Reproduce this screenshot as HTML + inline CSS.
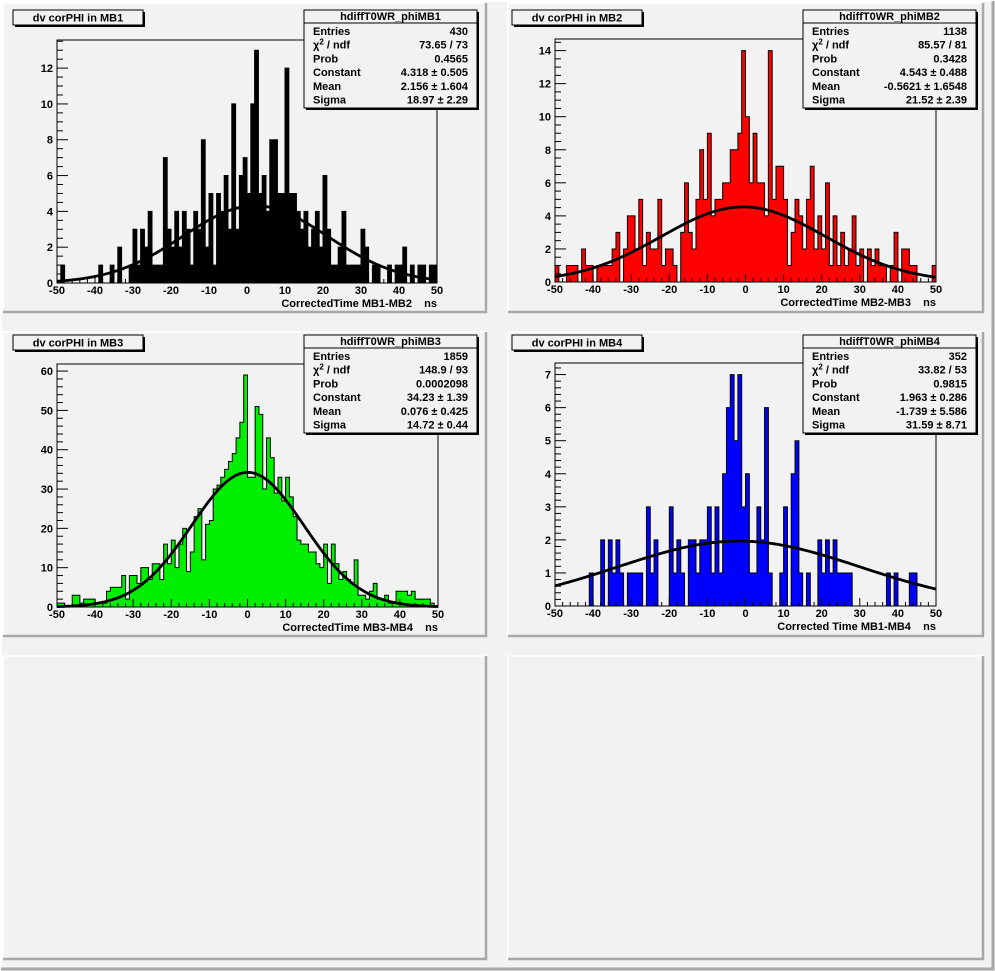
<!DOCTYPE html>
<html><head><meta charset="utf-8">
<style>
html,body{margin:0;padding:0;background:#f2f2f2;}
svg{display:block;font-family:"Liberation Sans",Arial,sans-serif;font-weight:bold;}
</style></head>
<body>
<svg id="cv" width="995" height="971" viewBox="0 0 995 971" xmlns="http://www.w3.org/2000/svg">
<rect x="0" y="0" width="995" height="971" fill="#f2f2f2"/>
<polyline points="1,969 1,1 993,1" fill="none" stroke="#ffffff" stroke-width="2"/>
<polyline points="993,1 993,969 1,969" fill="none" stroke="#a8a8a8" stroke-width="3"/>
<g id="pads"></g>
</svg>
<script>
// ---------- data ----------
const binEdgesMin = -50, binEdgesMax = 50;
const xTickLabels = [-50,-40,-30,-20,-10,0,10,20,30,40,50];

const countsMB1 = [0,1,0,0,0,0,0,0,0,0, 0,1,0,0,1,0,2,0,0,1, 3,1,3,2,4,1,1,1,7,3, 2,4,2,4,3,1,4,3,8,2,
  5,1,5,4,6,3,10,3,6,7, 5,10,13,5,6,4,8,8,5,5, 12,5,5,4,3,4,2,3,4,2, 6,3,1,1,2,4,1,1,1,1,
  3,2,0,1,1,0,0,1,0,1, 1,2,0,1,0,1,1,0,1,1];
const countsMB2 = [1,0,0,1,1,1,0,2,1,1, 0,1,1,1,1,2,3,0,2,4, 4,2,5,1,3,2,2,5,1,2, 2,1,0,3,6,3,2,5,8,5,
  9,4,5,5,6,6,8,8,9,14, 10,6,9,6,6,4,14,5,7,7, 5,1,3,5,4,2,5,7,2,4, 2,6,1,4,1,3,1,2,4,1,
  2,0,2,1,2,1,1,0,1,3, 0,2,2,1,1,0,0,0,0,1];
const countsMB3 = [1,1,0,0,3,3,1,2,2,2, 1,1,1,4,5,5,5,8,2,8, 8,6,10,10,7,11,11,7,16,11,
  17,10,16,20,9,14,23,25,12,21, 22,30,31,33,35,37,39,43,47,59, 33,33,51,49,30,43,38,29,33,27,
  33,28,23,17,16,16,14,14,11,10, 16,6,16,11,7,9,7,6,12,3, 3,2,4,6,2,2,3,1,1,4,
  4,4,3,4,2,2,2,2,1,0];
const countsMB4 = [0,0,0,0,0,0,0,0,0,1, 0,0,2,0,2,1,2,1,0,1, 1,1,1,0,3,1,2,0,0,0,
  3,1,2,1,0,2,2,1,2,2, 3,1,3,1,4,6,7,5,7,3, 4,1,1,3,2,6,1,0,0,1, 3,0,4,5,1,0,1,0,0,2,
  1,2,1,2,1,1,1,1,0,0, 0,0,0,0,0,0,0,1,0,1, 0,0,0,1,1,0,0,0,0,0];

const fitConstant = [4.318, 4.543, 34.23, 1.963];
const fitMean = [2.156, -0.5621, 0.076, -1.739];
const fitSigma = [18.97, 21.52, 14.72, 31.59];

const yMaxValues = [13.57, 14.7, 61.8, 7.35];
const yMajorStep = [2, 2, 10, 1];
const yMinorStep = [0.5, 0.5, 2, 0.2];
const yTickLabelsMB1 = [0,2,4,6,8,10,12];
const yTickLabelsMB2 = [0,2,4,6,8,10,12,14];
const yTickLabelsMB3 = [0,10,20,30,40,50,60];
const yTickLabelsMB4 = [0,1,2,3,4,5,6,7];

const titles = ["dv corPHI in MB1","dv corPHI in MB2","dv corPHI in MB3","dv corPHI in MB4"];
const histNames = ["hdiffT0WR_phiMB1","hdiffT0WR_phiMB2","hdiffT0WR_phiMB3","hdiffT0WR_phiMB4"];
const axisTitles = ["CorrectedTime MB1-MB2    ns","CorrectedTime MB2-MB3    ns","CorrectedTime MB3-MB4    ns","Corrected Time MB1-MB4    ns"];
const statEntries = ["430","1138","1859","352"];
const statChi2 = ["73.65 / 73","85.57 / 81","148.9 / 93","33.82 / 53"];
const statProb = ["0.4565","0.3428","0.0002098","0.9815"];
const statConstant = ["4.318 \u00b1 0.505","4.543 \u00b1 0.488","34.23 \u00b1 1.39","1.963 \u00b1 0.286"];
const statMean = ["2.156 \u00b1 1.604","-0.5621 \u00b1 1.6548","0.076 \u00b1 0.425","-1.739 \u00b1 5.586"];
const statSigma = ["18.97 \u00b1 2.29","21.52 \u00b1 2.39","14.72 \u00b1 0.44","31.59 \u00b1 8.71"];
const fillColors = ["#000000","#ff0000","#00ee00","#0000ff"];

// ---------- drawing ----------
const NS = "http://www.w3.org/2000/svg";
const root = document.getElementById('pads');
function el(tag, attrs, parent){
  const e = document.createElementNS(NS, tag);
  for (const k in attrs) e.setAttribute(k, attrs[k]);
  (parent||root).appendChild(e);
  return e;
}
function txt(s, x, y, anchor, size, parent){
  const t = el('text', {x:x, y:y, 'text-anchor':anchor||'start', 'font-size':size||11, fill:'#000'}, parent);
  t.textContent = s;
  return t;
}

const padRects = [[3,3,483,309],[508,3,475,309],[3,332,483,304],[508,332,475,304],[3,656,483,303],[508,656,475,303]];
padRects.forEach((p,i)=>{
  const g = el('g', {});
  
  
  el('rect', {x:p[0], y:p[1], width:p[2], height:p[3], fill:'#f2f2f2'}, g);
  el('polyline', {points:`${p[0]},${p[1]+p[3]} ${p[0]},${p[1]} ${p[0]+p[2]},${p[1]}`, fill:'none', stroke:'#ffffff', 'stroke-width':1.5}, g);
  el('polyline', {points:`${p[0]+p[2]},${p[1]} ${p[0]+p[2]},${p[1]+p[3]} ${p[0]},${p[1]+p[3]}`, fill:'none', stroke:'#a8a8a8', 'stroke-width':2.5}, g);
});

const frames = [
  {x0:57, x1:437, yTop:40, yBot:283, dx:0, dy:0},
  {x0:555, x1:936, yTop:39, yBot:282, dx:499, dy:0},
  {x0:57, x1:438, yTop:364, yBot:607, dx:0, dy:325},
  {x0:555, x1:936, yTop:363, yBot:606, dx:499, dy:325}
];
const allCounts = [countsMB1, countsMB2, countsMB3, countsMB4];
const allYLabels = [yTickLabelsMB1, yTickLabelsMB2, yTickLabelsMB3, yTickLabelsMB4];

frames.forEach((f, k)=>{
  const g = el('g', {});
  
  
  const counts = allCounts[k];
  const nb = counts.length;
  const xs = v => f.x0 + (v - binEdgesMin) / (binEdgesMax - binEdgesMin) * (f.x1 - f.x0);
  const ys = v => f.yBot - Math.min(v, yMaxValues[k]) / yMaxValues[k] * (f.yBot - f.yTop);
  const bw = (binEdgesMax - binEdgesMin) / nb;

  // bars
  counts.forEach((c, i)=>{
    if (c <= 0) return;
    const xa = xs(binEdgesMin + i*bw), xb = xs(binEdgesMin + (i+1)*bw);
    const r = el('rect', {x:xa, y:ys(c), width:xb-xa+0.3, height:f.yBot-ys(c), fill:fillColors[k]}, g);
    
    
  });
  // outline
  let d = `M${xs(binEdgesMin)},${f.yBot}`;
  counts.forEach((c, i)=>{
    d += ` L${xs(binEdgesMin+i*bw)},${ys(c)} L${xs(binEdgesMin+(i+1)*bw)},${ys(c)}`;
  });
  d += ` L${xs(binEdgesMax)},${f.yBot}`;
  const ol = el('path', {d:d, fill:'none', stroke:'#000', 'stroke-width':1}, g);
  
  

  // fit
  let fd = '';
  for (let s = 0; s <= 200; s++){
    const xv = binEdgesMin + s*(binEdgesMax-binEdgesMin)/200;
    const yv = fitConstant[k] * Math.exp(-0.5 * Math.pow((xv - fitMean[k]) / fitSigma[k], 2));
    fd += (s ? ' L' : 'M') + xs(xv).toFixed(2) + ',' + ys(yv).toFixed(2);
  }
  const fit = el('path', {d:fd, fill:'none', stroke:'#000', 'stroke-width':2.8}, g);
  
  

  // frame
  const fr = el('rect', {x:f.x0, y:f.yTop, width:f.x1-f.x0, height:f.yBot-f.yTop, fill:'none', stroke:'#000', 'stroke-width':1}, g);
  
  

  // x ticks
  const xa = el('g', {}, g);
  
  
  for (let v = binEdgesMin; v <= binEdgesMax + 1e-9; v += 2){
    const major = Math.abs(v % 10) < 1e-9;
    el('line', {x1:xs(v), x2:xs(v), y1:f.yBot, y2:f.yBot - (major ? 8 : 4), stroke:'#000', 'stroke-width':1}, xa);
  }
  xTickLabels.forEach(v=>{
    const t = txt(String(v), xs(v), f.yBot + 11, 'middle', 11, xa);
    
    
  });
  const at = txt(axisTitles[k], f.x1, f.yBot + 24, 'end', 11, xa);
  
  
  at.setAttribute('xml:space', 'preserve');
  at.style.whiteSpace = 'pre';

  // y ticks
  const ya = el('g', {}, g);
  
  
  for (let v = 0; v <= yMaxValues[k] + 1e-9; v += yMinorStep[k]){
    const r = v / yMajorStep[k];
    const major = Math.abs(r - Math.round(r)) < 1e-6;
    el('line', {x1:f.x0, x2:f.x0 + (major ? 11 : 6), y1:ys(v), y2:ys(v), stroke:'#000', 'stroke-width':1}, ya);
  }
  allYLabels[k].forEach(v=>{
    const t = txt(String(v), f.x0 - 4, ys(v) + 4, 'end', 11, ya);
    
    
  });

  // title box
  const tb = el('g', {}, g);
  
  
  const tx = 13 + f.dx, ty = 10 + f.dy;
  el('rect', {x:tx+2, y:ty+2, width:130, height:15, fill:'#000'}, tb);
  el('rect', {x:tx, y:ty, width:130, height:15, fill:'#f2f2f2', stroke:'#000', 'stroke-width':1}, tb);
  txt(titles[k], tx + 65, ty + 11.5, 'middle', 11, tb);

  // stats box
  const sb = el('g', {}, g);
  
  
  const sx = 304 + f.dx, sy = 10 + f.dy, sw = 173, sh = 98;
  el('rect', {x:sx+2, y:sy+2, width:sw, height:sh, fill:'#000'}, sb);
  el('rect', {x:sx, y:sy, width:sw, height:sh, fill:'#f2f2f2', stroke:'#000', 'stroke-width':1}, sb);
  el('line', {x1:sx, x2:sx+sw, y1:sy+13, y2:sy+13, stroke:'#000', 'stroke-width':1}, sb);
  txt(histNames[k], sx + sw/2, sy + 10, 'middle', 11, sb);
  const labels = ['Entries', null, 'Prob', 'Constant', 'Mean', 'Sigma'];
  const vals = [statEntries[k], statChi2[k], statProb[k], statConstant[k], statMean[k], statSigma[k]];
  for (let r = 0; r < 6; r++){
    const by = sy + 25 + r*13.7;
    if (labels[r]) txt(labels[r], sx + 9, by, 'start', 11, sb);
    else {
      const t = txt('\u03c7', sx + 9, by, 'start', 11, sb);
      const sup = el('tspan', {dy:-4, 'font-size':8}, t); sup.textContent = '2';
      const rest = el('tspan', {dy:4}, t); rest.textContent = ' / ndf';
    }
    txt(vals[r], sx + 164, by, 'end', 11, sb);
  }
});
</script>
</body></html>
